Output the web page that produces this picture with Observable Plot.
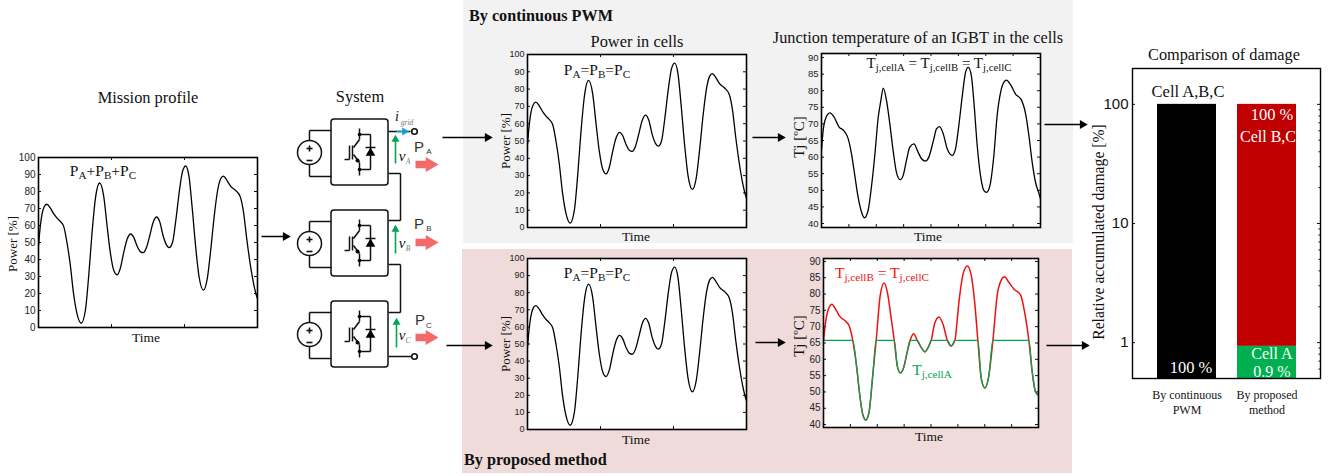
<!DOCTYPE html>
<html><head><meta charset="utf-8">
<script src="https://cdn.jsdelivr.net/npm/d3@7"></script>
<script src="https://cdn.jsdelivr.net/npm/@observablehq/plot@0.6"></script>
<style>
html,body{margin:0;padding:0;background:#fff}
#page{position:relative;width:1330px;height:476px;overflow:hidden}
#page svg{position:absolute}
.lab{position:absolute;white-space:nowrap;line-height:1;font-family:"Liberation Serif",serif;color:#111}
.lab sub{font-size:.72em;vertical-align:baseline;position:relative;top:.28em;line-height:0}
</style></head><body><div id="page"></div>
<script>
// ---------- data: mission profile / power in cells
const powerTime=[0,0.46,1.5,2.6,3.8,5.3,6.9,8.4,9.9,11.5,13,14.5,16,17.6,19.5,21.4,22.9,24.4,26,27.9,29.8,31.3,32.8,34.4,35.9,37.4,38.9,40.5,42,43.5,45,46.6,47.8,49.3,50.8,52.4,53.9,55.4,56.9,58.5,59.7,61.2,62.7,64.3,65.8,67.2,68.7,70.2,71.8,73.3,75.3,77.1,78.6,80.2,81.7,83.2,84.4,86.3,87.8,90.1,92.1,93.6,95.1,96.6,98.2,99.7,100];
const powerValue=[48,55,66,71,72.5,70.5,67,64.5,62.5,59.5,50,37,20,8,2.5,10,30,55,76,85,77,60,44,33.5,31,35,44,52,55,53,48,44.5,44,47,54,62,65,62,54,48.5,47,50,63,80,92,95,89,70,47,30,22,29,45,65,80,87.5,89,86,83,80.5,77,68,52,38,26,18,17];
// ---------- data: junction temperature, continuous PWM
const tjTime=[0,.76,1.8,3.8,5.8,7.9,10.4,12.2,13.7,15.2,16.7,18.3,19.6,21.3,22.8,24.4,25.9,27.1,28.2,29.7,31.2,32.7,34.2,35.9,37.3,38.8,40.3,42.2,44.1,45.7,47.5,49,51.3,52.5,53.9,55.6,57.4,59.7,61.2,62.7,64.3,65.8,67,68.4,69.6,71.1,72.6,74.1,75.4,76.9,78.7,80.2,81.8,83.3,84.5,86.3,88.6,91.2,93.2,94.7,96.2,97.7,99.3,100];
const tjValue=[62,68,71.5,73.3,72,69.2,67.8,65.5,61,54.5,48,43.4,41.7,44,51,61,72,77,80.8,77,70,62,55.5,53.2,54.5,59,63,64,61.5,59.5,58.8,60,65.5,68.5,69.2,67,62.5,60.5,62.5,69.5,78.5,85.6,87,84.6,76.5,63.5,54.5,50,49.4,51.4,60.5,72.5,79.6,82.6,83.2,81.8,79,77.3,73,66.5,58.5,52.5,49,47.4];
// ---------- data: junction temperature, proposed method
const tjBCTime=[0,.8,1.9,3.9,5.9,7.8,10.1,12.1,13.6,15.5,16.7,18.3,19.7,21.2,22.9,24.5,26.4,28.2,29.8,31.3,32.9,34.4,35.8,37.4,38.8,40.3,41.9,43.6,45.3,47.1,48.8,50.1,51.7,53.7,55.7,57.6,59.4,61.1,63,64.8,66.9,68.7,70.3,71.8,73.4,75.1,76.9,78.8,80.8,82.7,84.2,86.2,88.6,91.7,93.5,95.5,97.1,98.6,100];
const tjBCValue=[65.8,70.5,74.6,76.9,75,73,71.8,70,65.8,57.2,50,43,41.4,43.9,55,65.8,79.7,83.4,80.2,73.5,65.8,57.7,55.8,57.7,61.8,65.8,67.8,65.8,63.8,62.3,63.8,65.8,71,73,70.5,65.8,64.1,65.8,77.6,85.8,88.6,85.8,77.6,65.8,54,51.2,55,65.8,79.7,84.3,85.3,83.6,81.5,79.7,74.6,65.8,56,50,49];
const tjATime=[0,13.6,15.5,16.7,18.3,19.7,21.2,22.9,24.5,32.9,34.4,35.8,37.4,38.8,40.3,43.6,45.3,47.1,48.8,50.1,57.6,59.4,61.1,71.8,73.4,75.1,76.9,78.8,95.5,97.1,98.6,100];
const tjAValue=[65.8,65.8,57.2,50,43,41.4,43.9,55,65.8,65.8,57.7,55.8,57.7,61.8,65.8,65.8,63.8,62.3,63.8,65.8,65.8,64.1,65.8,65.8,54,51.2,55,65.8,65.8,56,50,49];
// ---------- data: damage comparison
const methods=["By continuous\nPWM","By proposed\nmethod"];
const damageMethod=[methods[0],methods[1],methods[1]];
const damageLow=[0.5,0.93,0.5];
const damageHigh=[100,100,0.93];
const damageCell=["Cell A,B,C","Cell B,C","Cell A"];
const damageTicks=[1,10,100];
const damageMinor=[0.6,0.7,0.8,0.9,2,3,4,5,6,7,8,9,20,30,40,50,60,70,80,90];
const powerTicks=[0,10,20,30,40,50,60,70,80,90,100];
const tjTicks=[40,45,50,55,60,65,70,75,80,85,90];
const time3=[0,33.33,66.67,100];
const time8=[0,12.5,25,37.5,50,62.5,75,87.5,100];

const page=document.getElementById("page");
const zip=(t,v)=>t.map((d,i)=>({t:d,v:v[i]}));
const power=zip(powerTime,powerValue), tj=zip(tjTime,tjValue), tjBC=zip(tjBCTime,tjBCValue), tjA=zip(tjATime,tjAValue);

// ---------- background and schematic (page-sized plot)
const cellTops=[119,210,301];
const bgBoxes=[{x1:463,x2:1073,y1:0,y2:243,f:"#f2f2f2"},{x1:462,x2:1072,y1:249,y2:473,f:"#efdcda"}];
const arrows=[[261,290,236],[442,492,137],[752,785,137],[446,492,345],[755,785,342],[1044,1087,124],[1046,1089,345]].map(([a,b,y])=>({a,b,y}));
const seg=[];
const add=(x1,y1,x2,y2)=>seg.push({x1,y1,x2,y2});
cellTops.forEach(t=>{
  add(309,t+21,309,t+11);add(309,t+11,331,t+11);add(309,t+45,309,t+57);add(309,t+57,331,t+57);
  add(359,t+9,359,t+20);add(359,t+15,370,t+15);add(370,t+15,370,t+50);add(370,t+50,359,t+50);add(359,t+43,359,t+56);
  add(344,t+40,349,t+40);add(349,t+26,349,t+40);add(352,t+26,352,t+40);
  add(353,t+28,359,t+20);add(353,t+35,359,t+43);add(365,t+28,375,t+28);
});
[[388,131,410,131],[388,173,400,173],[400,173,400,220],[400,220,388,220],[388,264,400,264],[400,264,400,312],[400,312,388,312],[388,356,411,356]].forEach(s=>add(...s));
const plusMinus=cellTops.flatMap(t=>[{x1:306,y1:t+29,x2:312,y2:t+29},{x1:309,y1:t+26,x2:309,y2:t+32},{x1:306,y1:t+41,x2:312,y2:t+41}]);
const greenArrows=[[395,163,139],[395,253,229],[396,347,322]].map(([x,y1,y2])=>({x,y1,y2}));
const redArrows=[164,242,337].map(y=>({y}));

const back=Plot.plot({
  width:1330,height:476,margin:0,style:{background:"transparent"},
  x:{domain:[0,1330],range:[0,1330],axis:null},y:{domain:[0,476],range:[0,476],axis:null},
  marks:[
    Plot.rect(bgBoxes,{x1:"x1",x2:"x2",y1:"y1",y2:"y2",fill:"f"}),
    Plot.rect(cellTops,{x1:331,x2:388,y1:d=>d,y2:d=>d+66,stroke:"#111",strokeWidth:1.5,fill:"white",rx:3}),
    Plot.link(seg,{x1:"x1",y1:"y1",x2:"x2",y2:"y2",stroke:"#111",strokeWidth:1.5}),
    Plot.dot(cellTops,{x:309,y:d=>d+33,r:12,stroke:"#111",strokeWidth:1.5,fill:"white"}),
    Plot.link(plusMinus,{x1:"x1",y1:"y1",x2:"x2",y2:"y2",stroke:"#111",strokeWidth:1.6}),
    Plot.dot(cellTops,{x:370,y:d=>d+33.5,symbol:"triangle",r:3.6,fill:"#000"}),
    Plot.dot(cellTops.flatMap(t=>[t+15,t+50]),{x:359,y:d=>d,r:1.8,fill:"#000"}),
    Plot.dot(cellTops,{x:357,y:d=>d+41,r:2,fill:"#000"}),
    Plot.dot([131,356],{x:414,y:d=>d,r:2.8,stroke:"#111",strokeWidth:1.6,fill:"white"}),
    Plot.link([0],{x1:396,x2:404,y1:131,y2:131,stroke:"#1b9cd8",strokeWidth:1.6}),
    Plot.dot([0],{x:404,y:131,symbol:"triangle",rotate:90,r:3,fill:"#1b9cd8"}),
    Plot.link(greenArrows,{x1:"x",x2:"x",y1:"y1",y2:"y2",stroke:"#00a651",strokeWidth:1.6}),
    Plot.dot(greenArrows,{x:"x",y:"y2",symbol:"triangle",r:3,fill:"#00a651"}),
    Plot.link(redArrows,{x1:415,x2:430,y1:"y",y2:"y",stroke:"#f46a6a",strokeWidth:7.5}),
    Plot.dot(redArrows,{x:429.5,y:"y",symbol:"triangle",rotate:90,r:5.5,fill:"#f46a6a"}),
    Plot.link(arrows,{x1:"a",x2:d=>d.b-6,y1:"y",y2:"y",stroke:"#000",strokeWidth:1.5}),
    Plot.dot(arrows,{x:d=>d.b-5,y:"y",symbol:"triangle",rotate:90,r:3.4,fill:"#000"})
  ]
});
back.style.left="0";back.style.top="0";
page.append(back);

// ---------- line panels
const ML=30,MR=5,MT=5,MB=5;
function panel({x0,x1,y0,y1,domain,ticks,timeTicks,font,size,lines}){
  const w=x1-x0,h=y1-y0,inner=3;
  const p=Plot.plot({
    width:w+ML+MR,height:h+MT+MB,
    marginLeft:ML,marginRight:MR,marginTop:MT,marginBottom:MB,
    style:{background:"transparent"},
    x:{domain:[0,100],axis:null},y:{domain,axis:null},
    marks:[
      Plot.frame({fill:"white"}),
      Plot.axisY({ticks,tickSize:0,tickPadding:3,label:null,fontFamily:font,fontSize:size,fill:"#222",tickFormat:d=>d}),
      Plot.tickY(ticks,{y:d=>d,insetRight:w-inner,stroke:"#111"}),
      Plot.tickY(ticks,{y:d=>d,insetLeft:w-inner,stroke:"#111"}),
      Plot.tickX(timeTicks,{x:d=>d,insetTop:h-inner,stroke:"#111"}),
      Plot.tickX(timeTicks,{x:d=>d,insetBottom:h-inner,stroke:"#111"}),
      ...lines,
      Plot.frame({stroke:"#000",strokeWidth:1.6})
    ]
  });
  p.style.left=(x0-ML)+"px";p.style.top=(y0-MT)+"px";
  page.append(p);
}
const lineOf=(data,stroke,w=1.3)=>Plot.line(data,{x:"t",y:"v",stroke,strokeWidth:w,curve:"monotone-x",clip:true});
const pLine=[lineOf(power,"#000")];
panel({x0:38,x1:257,y0:157,y1:327,domain:[0,100],ticks:powerTicks,timeTicks:time3,font:"Liberation Sans",size:10,lines:pLine});
panel({x0:527,x1:746,y0:54,y1:227,domain:[0,100],ticks:powerTicks,timeTicks:time3,font:"Liberation Sans",size:9,lines:pLine});
panel({x0:527,x1:746,y0:258,y1:429,domain:[0,100],ticks:powerTicks,timeTicks:time3,font:"Liberation Sans",size:9,lines:pLine});
panel({x0:821,x1:1040,y0:53,y1:227,domain:[38.8,91.2],ticks:tjTicks,timeTicks:time8,font:"Liberation Sans",size:9.5,lines:[lineOf(tj,"#000")]});
panel({x0:823,x1:1038,y0:258,y1:427,domain:[39.1,90.9],ticks:tjTicks,timeTicks:time8,font:"Liberation Sans",size:10,lines:[lineOf(tjBC,"#f01010",1.5),lineOf(tjA,"#00a651",1.3)]});

// ---------- damage bars
const damage=damageMethod.map((m,i)=>({m,lo:damageLow[i],hi:damageHigh[i],cell:damageCell[i]}));
const damageColor={"Cell A,B,C":"#000","Cell B,C":"#c00000","Cell A":"#00b050"};
const bw=188,bh=310;
const bars=Plot.plot({
  width:bw+40+8,height:bh+8+44,
  marginLeft:40,marginRight:8,marginTop:8,marginBottom:44,
  style:{background:"transparent",fontFamily:"Liberation Serif"},
  x:{domain:methods,paddingInner:0.268,paddingOuter:0.3,axis:null,align:0.5},
  y:{type:"log",domain:[0.5,200],axis:null},
  marks:[
    Plot.frame({fill:"white"}),
    Plot.barY(damage,{x:"m",y1:"lo",y2:"hi",fill:d=>damageColor[d.cell]}),
    Plot.axisY({ticks:damageTicks,tickSize:0,tickPadding:4,tickFormat:d=>d,label:null,fontFamily:"Liberation Sans",fontSize:15,fill:"#111"}),
    Plot.tickY(damageTicks,{y:d=>d,insetRight:bw-3,stroke:"#111"}),
    Plot.tickY(damageTicks,{y:d=>d,insetLeft:bw-3,stroke:"#111"}),
    Plot.tickY(damageMinor,{y:d=>d,insetLeft:bw-1.5,stroke:"#111"}),
    Plot.axisX({tickSize:0,tickPadding:10,label:null,fontFamily:"Liberation Serif",fontSize:12,fill:"#111",lineHeight:1.22}),
    Plot.frame({stroke:"#000",strokeWidth:1.4})
  ]
});
bars.style.left=(1132-40)+"px";bars.style.top=(68-8)+"px";
page.append(bars);

// ---------- text labels
const T=(s,x,y,size,o={})=>({s,x,y,size,...o});
const labels=[
  T("Mission profile",148,98,16.4),
  T("System",360,97,16.4),
  T("By continuous PWM",469,16,16.2,{b:1,a:"l"}),
  T("By proposed method",464,460,16.2,{b:1,a:"l"}),
  T("Power in cells",637,42,16.4),
  T("Junction temperature of an IGBT in the cells",918,38,16.3),
  T("Comparison of damage",1224,55,16.3),
  T("P<sub>A</sub>+P<sub>B</sub>+P<sub>C</sub>",103,171,15.5),
  T("P<sub>A</sub>=P<sub>B</sub>=P<sub>C</sub>",597,70,15.5),
  T("P<sub>A</sub>=P<sub>B</sub>=P<sub>C</sub>",597,273,15.5),
  T("T<sub>j,cellA</sub> = T<sub>j,cellB</sub> = T<sub>j,cellC</sub>",939,63,15),
  T("T<sub>j,cellB</sub> = T<sub>j,cellC</sub>",882,273,15.5,{c:"#f01010"}),
  T("T<sub>j,cellA</sub>",932,370,15.5,{c:"#00a651"}),
  T("Power [%]",12,244,13,{r:-90}),
  T("Power [%]",505,141,13,{r:-90}),
  T("Power [%]",505,344,13,{r:-90}),
  T("Tj [ºC]",799,137,15,{r:-90}),
  T("Tj [ºC]",799,336,15,{r:-90}),
  T("Time",146,338,13.5),
  T("Time",636,237,13.5),
  T("Time",636,440,13.5),
  T("Time",928,237,13.5),
  T("Time",929,437,13.5),
  T("Relative accumulated damage [%]",1099,232,15.7,{r:-90}),
  T("Cell A,B,C",1188,92,16.5),
  T("100 %",1191,368,16.5,{c:"#fff"}),
  T("100 %",1272,115,16.5,{c:"#fff"}),
  T("Cell B,C",1268,137,16,{c:"#fff"}),
  T("Cell A",1272,354,16,{c:"#fff"}),
  T("0.9 %",1272,372,16,{c:"#fff"}),
  T("<i>i</i>",397,117,14),
  T("<i>grid</i>",407,123,7.5,{c:"#777"}),
  T("<i>v</i>",402,156,15),
  T("<i>A</i>",408,162,7.5,{c:"#777"}),
  T("<i>v</i>",402,243,15),
  T("<i>B</i>",408,249,7.5,{c:"#777"}),
  T("<i>v</i>",402,335,15),
  T("<i>C</i>",408,341,7.5,{c:"#777"}),
  T("P",419,146,15,{f:"Liberation Sans",c:"#333"}),
  T("A",429,152,8,{f:"Liberation Sans",c:"#333"}),
  T("P",419,223,15,{f:"Liberation Sans",c:"#333"}),
  T("B",429,229,8,{f:"Liberation Sans",c:"#333"}),
  T("P",420,319,15,{f:"Liberation Sans",c:"#333"}),
  T("C",429,326,8,{f:"Liberation Sans",c:"#333"})
];
for(const l of labels){
  const e=document.createElement("div");e.className="lab";e.innerHTML=l.s;
  e.style.left=l.x+"px";e.style.top=l.y+"px";e.style.fontSize=l.size+"px";
  if(l.c)e.style.color=l.c;
  if(l.b)e.style.fontWeight="bold";
  if(l.f)e.style.fontFamily=l.f;
  e.style.transform=(l.a==="l"?"translate(0,-50%)":"translate(-50%,-50%)")+(l.r?` rotate(${l.r}deg)`:"");
  page.append(e);
}
</script></body></html>
